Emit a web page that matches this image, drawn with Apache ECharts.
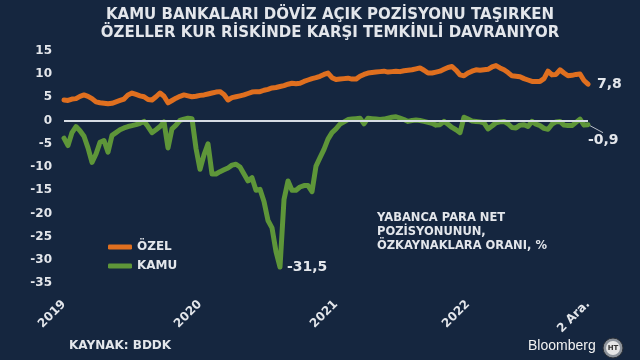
<!DOCTYPE html>
<html>
<head>
<meta charset="utf-8">
<style>
html,body{margin:0;padding:0;background:#15263f;}
#chart{width:640px;height:360px;}
</style>
<script src="https://cdn.jsdelivr.net/npm/echarts@6/dist/echarts.min.js"></script>
</head>
<body>
<div id="chart"></div>
<script>
// Ratio of FX net position to equity, %
const ozel = [4.4,4.3,4.6,4.7,5.2,5.5,5.2,4.7,4.0,3.8,3.7,3.6,3.7,4.0,4.3,4.6,5.5,5.9,5.6,5.3,
  5.1,4.5,4.4,5.1,5.9,5.2,3.8,4.3,4.8,5.2,5.5,5.3,5.1,5.2,5.4,5.5,5.7,5.9,6.1,6.2,
  5.6,4.4,4.9,5.1,5.3,5.5,5.8,6.1,6.2,6.2,6.5,6.7,7.0,7.1,7.3,7.5,7.8,8.0,7.9,8.0,
  8.4,8.7,9.0,9.2,9.5,9.9,10.2,9.2,8.8,8.9,9.0,9.1,8.9,8.9,9.5,9.9,10.2,10.3,10.4,10.5,
  10.6,10.4,10.5,10.6,10.5,10.7,10.8,10.9,11.1,11.3,10.8,10.2,10.2,10.4,10.6,11.0,11.4,11.6,10.8,9.8,
  9.6,10.2,10.6,10.9,10.8,10.9,11.0,11.5,11.8,11.3,10.9,10.3,9.6,9.5,9.4,9.0,8.7,8.4,8.4,8.4,
  9.0,10.6,9.8,9.9,10.9,10.2,9.6,9.7,9.9,10.0,8.6,7.8];
const kamu = [-3.8,-5.4,-2.6,-1.3,-2.2,-3.4,-5.9,-9.0,-7.2,-4.7,-4.3,-6.8,-3.2,-2.6,-2.0,-1.6,-1.3,-1.1,-0.9,-0.6,
  -0.2,-1.3,-2.6,-2.0,-1.3,-0.3,-5.9,-1.8,-1.0,0.0,0.3,0.5,0.4,-6.0,-10.5,-7.4,-5.0,-11.5,-11.5,-11.0,
  -10.6,-10.2,-9.6,-9.4,-10.0,-11.5,-13.0,-12.3,-15.0,-14.8,-17.4,-21.5,-23.1,-28.2,-31.5,-17.0,-13.0,-15.0,-15.0,-14.3,
  -14.0,-14.0,-15.3,-9.8,-8.0,-6.2,-4.0,-2.6,-1.8,-0.8,-0.3,0.2,0.3,0.4,0.5,-0.7,0.5,0.4,0.3,0.2,
  0.3,0.5,0.7,0.8,0.5,0.2,-0.2,0.0,0.1,0.0,-0.2,-0.4,-0.6,-1.0,-0.9,-0.2,-0.8,-1.5,-2.0,-2.6,
  0.7,0.3,-0.1,-0.2,-0.3,-0.5,-1.8,-1.2,-0.5,-0.3,-0.2,-0.7,-1.5,-1.6,-1.0,-0.9,-1.3,-0.2,-0.8,-1.1,
  -1.7,-1.9,-0.8,-0.3,-0.2,-1.0,-1.1,-1.1,-0.4,0.3,-1.0,-0.9];
const tickIndex = [0, 34, 68, 101, 131];
const tickLabels = ['2019', '2020', '2021', '2022', '2 Ara.'];
const yTicks = [-35, 15, 5];
const seriesNames = ['ÖZEL', 'KAMU'];
const titleLines = ['KAMU BANKALARI DÖVİZ AÇIK POZİSYONU TAŞIRKEN', 'ÖZELLER KUR RİSKİNDE KARŞI TEMKİNLİ DAVRANIYOR'];
const noteLines = ['YABANCA PARA NET', 'POZİSYONUNUN,', 'ÖZKAYNAKLARA ORANI, %'];
const sourceText = 'KAYNAK: BDDK';

const categories = ozel.map((_, i) => String(i));
const fmt = v => v.toFixed(1).replace('.', ',');
const lastIdx = kamu.length - 1;
const minIdx = kamu.indexOf(Math.min(...kamu));
const TXT = '#e3e6eb';
const FONT = 'DejaVu Sans';
const lbl = {show: true, color: TXT, fontFamily: FONT, fontWeight: 'bold', fontSize: 14};

const kamuData = kamu.map((v, i) => {
  if (i === minIdx) return {value: v, label: Object.assign({}, lbl, {position: 'right', distance: 7, formatter: fmt(v)})};
  if (i === lastIdx) return {value: v, label: Object.assign({}, lbl, {position: 'right', distance: 0, offset: [0, 16], formatter: fmt(v)})};
  return v;
});
const ozelData = ozel.map((v, i) => i === ozel.length - 1
  ? {value: v, label: Object.assign({}, lbl, {position: 'right', distance: 9, formatter: fmt(v)})} : v);

const chart = echarts.init(document.getElementById('chart'), null, {renderer: 'canvas'});
const option = {
  backgroundColor: '#15263f',
  animation: false,
  title: {
    text: titleLines.join('\n'),
    left: 325, top: 1, textAlign: 'center',
    textStyle: {color: TXT, fontFamily: FONT, fontWeight: 'bold', fontSize: 15, lineHeight: 18}
  },
  legend: {
    orient: 'vertical', left: 103, top: 236, itemGap: 7,
    itemWidth: 24, itemHeight: 5, icon: 'roundRect',
    textStyle: {color: TXT, fontFamily: FONT, fontWeight: 'bold', fontSize: 12},
    data: seriesNames
  },
  grid: {left: 64, right: 52, top: 50.7, bottom: 76.7, containLabel: false},
  xAxis: {
    type: 'category', data: categories, boundaryGap: false,
    axisLine: {show: false}, axisTick: {show: false}, splitLine: {show: false},
    axisLabel: {
      rotate: 45, margin: 19, color: TXT, fontFamily: FONT, fontWeight: 'bold', fontSize: 12,
      interval: (idx) => tickIndex.indexOf(idx) >= 0,
      formatter: (val, idx) => { const k = tickIndex.indexOf(idx); return k >= 0 ? tickLabels[k] : ''; }
    }
  },
  yAxis: {
    type: 'value', min: yTicks[0], max: yTicks[1], interval: yTicks[2],
    axisLine: {show: false}, axisTick: {show: false}, splitLine: {show: false},
    axisLabel: {margin: 12, color: TXT, fontFamily: FONT, fontWeight: 'bold', fontSize: 12}
  },
  series: [
    {
      name: seriesNames[0], type: 'line', data: ozelData,
      showSymbol: true, showAllSymbol: true, symbol: 'circle', symbolSize: 0,
      color: '#df6f1f',
      lineStyle: {width: 5, cap: 'round', join: 'round'},
      markLine: {
        silent: true, symbol: 'none', label: {show: false},
        lineStyle: {color: '#d6dce4', width: 2, type: 'solid'},
        data: [{yAxis: 0}]
      }
    },
    {
      name: seriesNames[1], type: 'line', data: kamuData,
      showSymbol: true, showAllSymbol: true, symbol: 'circle', symbolSize: 0,
      color: '#5e9639',
      lineStyle: {width: 5, cap: 'round', join: 'round'}
    }
  ],
  graphic: [
    {type: 'text', left: 377, top: 211, style: {text: noteLines.join('\n'), fill: TXT, font: 'bold 11.5px "DejaVu Sans"', lineHeight: 14}},
    {type: 'text', left: 69, top: 340, style: {text: sourceText, fill: TXT, font: 'bold 12px "DejaVu Sans"'}},
    {type: 'text', left: 528, top: 339, style: {text: 'Bloomberg', fill: '#f2f2f2', font: '14px "Liberation Sans"'}},
    {type: 'circle', shape: {cx: 613, cy: 348, r: 10}, style: {fill: '#8d939b', stroke: '#2a2f36', lineWidth: 1}},
    {type: 'circle', shape: {cx: 613, cy: 348, r: 7}, style: {fill: '#e6e6e6'}},
    {type: 'text', x: 613, y: 348, style: {text: 'HT', fill: '#333', font: 'bold 7px "DejaVu Sans"', align: 'center', verticalAlign: 'middle'}}
  ]
};
chart.setOption(option);
// leader line from the last KAMU point to its label, placed through the chart's own scales
const endPt = chart.convertToPixel({seriesIndex: 1}, [lastIdx, kamu[lastIdx]]);
chart.setOption({
  graphic: option.graphic.concat([{
    type: 'line', silent: true,
    shape: {x1: endPt[0] + 2, y1: endPt[1] + 1, x2: endPt[0] + 15, y2: endPt[1] + 8},
    style: {stroke: '#b8bec8', lineWidth: 1}
  }])
});
</script>
</body>
</html>
